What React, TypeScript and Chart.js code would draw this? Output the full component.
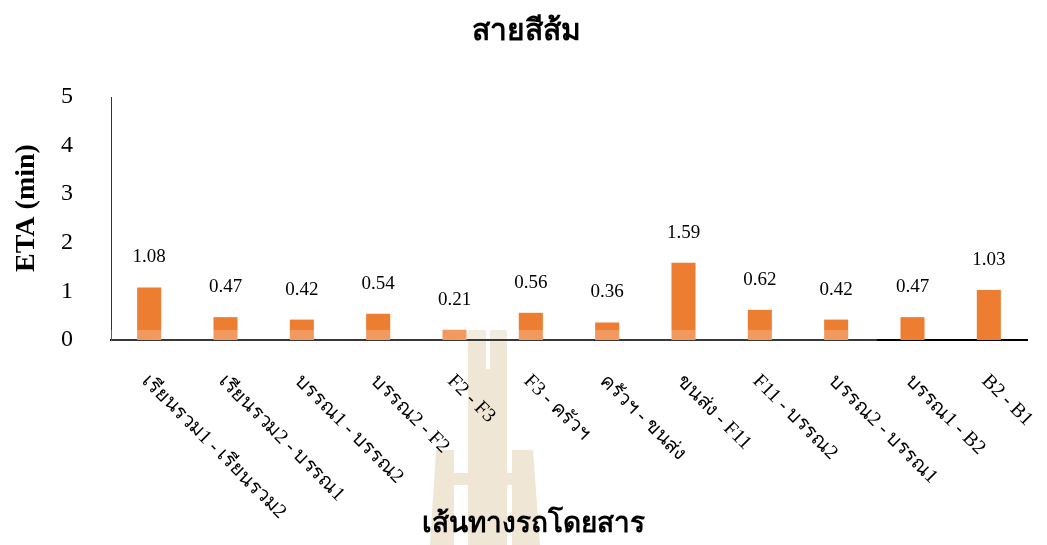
import React, { useEffect, useRef } from "react";
import { Chart, registerables } from "chart.js";

Chart.register(...registerables);

const categories = [
  "เรียนรวม1 - เรียนรวม2",
  "เรียนรวม2 - บรรณ1",
  "บรรณ1 - บรรณ2",
  "บรรณ2 - F2",
  "F2 - F3",
  "F3 - ครัวฯ",
  "ครัวฯ - ขนส่ง",
  "ขนส่ง - F11",
  "F11 - บรรณ2",
  "บรรณ2 - บรรณ1",
  "บรรณ1 - B2",
  "B2 - B1",
];
const etaValues = [1.08, 0.47, 0.42, 0.54, 0.21, 0.56, 0.36, 1.59, 0.62, 0.42, 0.47, 1.03];
const yMin = 0;
const yMax = 5;
const yStep = 1;

const chartTitle = "สายสีส้ม";
const yTitle = "ETA (min)";
const xTitle = "เส้นทางรถโดยสาร";

const SERIF = '"Liberation Serif", "Times New Roman", serif';
const BAR_COLOR = "#ED7D31";
const WATERMARK = "#EFE6D6";

const watermarkPlugin = {
  id: "watermark",
  beforeDraw(chart: any) {
    const ctx = chart.ctx;
    ctx.save();
    ctx.fillStyle = WATERMARK;
    // left H
    ctx.beginPath();
    ctx.moveTo(436, 450);
    ctx.lineTo(454, 450);
    ctx.lineTo(454, 545);
    ctx.lineTo(430, 545);
    ctx.closePath();
    ctx.fill();
    ctx.fillRect(454, 473, 14, 12);
    // inner legs
    ctx.fillRect(468, 330, 18, 215);
    ctx.fillRect(490, 330, 17, 215);
    ctx.fillRect(486, 369, 4, 176);
    // right H
    ctx.fillRect(507, 473, 5, 12);
    ctx.beginPath();
    ctx.moveTo(512, 450);
    ctx.lineTo(533, 450);
    ctx.lineTo(540, 545);
    ctx.lineTo(512, 545);
    ctx.closePath();
    ctx.fill();
    ctx.restore();
  },
};

const overlayPlugin = {
  id: "overlayBand",
  afterDatasetsDraw(chart: any) {
    const ctx = chart.ctx;
    const area = chart.chartArea;
    ctx.save();
    ctx.fillStyle = "rgba(255,255,255,0.22)";
    ctx.fillRect(area.left, area.bottom - 10, 877 - area.left, 12);
    ctx.restore();
  },
};

const valueLabelPlugin = {
  id: "valueLabels",
  afterDatasetsDraw(chart: any) {
    const ctx = chart.ctx;
    const meta = chart.getDatasetMeta(0);
    const data = chart.data.datasets[0].data as number[];
    ctx.save();
    ctx.font = `19px ${SERIF}`;
    ctx.fillStyle = "#000";
    ctx.textAlign = "center";
    ctx.textBaseline = "middle";
    meta.data.forEach((bar: any, i: number) => {
      ctx.fillText(data[i].toFixed(2), bar.x, bar.y - 30);
    });
    ctx.restore();
  },
};

const textPlugin = {
  id: "texts",
  afterDraw(chart: any) {
    const ctx = chart.ctx;
    const xs = chart.scales.x;
    const area = chart.chartArea;
    const top = area.bottom + 31;
    ctx.save();
    ctx.font = `20px ${SERIF}`;
    ctx.fillStyle = "#000";
    ctx.textAlign = "left";
    ctx.textBaseline = "top";
    (chart.data.labels as string[]).forEach((lab: string, i: number) => {
      const x = xs.getPixelForValue(i);
      ctx.save();
      ctx.translate(x + 3, top);
      ctx.rotate(Math.PI / 4);
      ctx.fillText(lab, 0, 0);
      ctx.restore();
    });
    ctx.textAlign = "center";
    ctx.textBaseline = "middle";
    // chart title
    ctx.font = `bold 30px ${SERIF}`;
    ctx.fillText(chartTitle, 526, 32);
    // x axis title
    ctx.font = `bold 28px ${SERIF}`;
    ctx.fillText(xTitle, 533, 525);
    // y axis title
    ctx.save();
    ctx.translate(27, 208);
    ctx.rotate(-Math.PI / 2);
    ctx.fillText(yTitle, 0, 0);
    ctx.restore();
    ctx.restore();
  },
};

export default function App() {
  const ref = useRef<HTMLCanvasElement | null>(null);

  useEffect(() => {
    if (!ref.current) return;
    const chart = new Chart(ref.current, {
      type: "bar",
      data: {
        labels: categories,
        datasets: [
          {
            label: yTitle,
            data: etaValues,
            backgroundColor: BAR_COLOR,
            borderWidth: 0,
            barPercentage: 0.315,
            categoryPercentage: 1,
          },
        ],
      },
      options: {
        responsive: false,
        animation: false,
        devicePixelRatio: 1,
        layout: { padding: { left: 0, right: 20, top: 97, bottom: 0 } },
        plugins: {
          legend: { display: false },
          tooltip: { enabled: false },
          title: { display: false },
        },
        scales: {
          x: {
            grid: { display: false },
            border: { display: true, color: "#000", width: 2 },
            ticks: { display: false },
            afterFit(scale: any) {
              scale.height = 205;
            },
          },
          y: {
            min: yMin,
            max: yMax,
            grid: { display: false },
            border: { display: true, color: "#333", width: 1 },
            ticks: {
              stepSize: yStep,
              color: "#000",
              padding: 30,
              font: { family: SERIF, size: 24 },
            },
            afterFit(scale: any) {
              scale.width = 111;
            },
          },
        },
      },
      plugins: [watermarkPlugin, overlayPlugin, valueLabelPlugin, textPlugin],
    });
    return () => chart.destroy();
  }, []);

  return (
    <div style={{ position: "fixed", left: 0, top: 0, width: 1047, height: 545, background: "#fff" }}>
      <canvas ref={ref} width={1047} height={545} />
    </div>
  );
}
